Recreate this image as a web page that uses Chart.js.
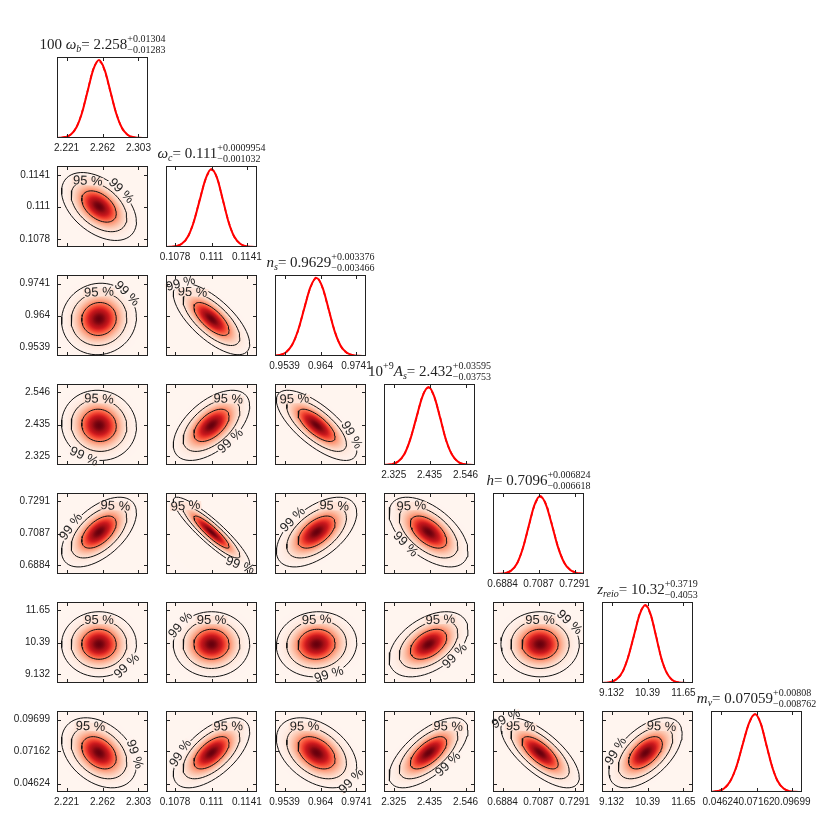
<!DOCTYPE html>
<html>
<head>
<meta charset="utf-8">
<script src="https://cdn.jsdelivr.net/npm/chart.js@4.4.1/dist/chart.umd.min.js"></script>
<style>
html, body { margin: 0; padding: 0; background: #fff; overflow: hidden; }
#fig { position: relative; width: 817px; height: 817px; }
#fig canvas { position: absolute; }
</style>
</head>
<body>
<div id="fig"></div>
<script>
// ---- data ----
const paramTicks = [
  [2.221, 2.262, 2.303],
  [0.1078, 0.111, 0.1141],
  [0.9539, 0.964, 0.9741],
  [2.325, 2.435, 2.546],
  [0.6884, 0.7087, 0.7291],
  [9.132, 10.39, 11.65],
  [0.04624, 0.07162, 0.09699]
];
const bestFit = [2.258, 0.111, 0.9629, 2.432, 0.7096, 10.32, 0.07059];
const errUp = [0.01304, 0.0009954, 0.003376, 0.03595, 0.006824, 0.3719, 0.00808];
const errDown = [0.01283, 0.001032, 0.003466, 0.03753, 0.006618, 0.4053, 0.008762];

// symbol of each parameter, as [text, style] pieces
const titleSymbols = [
  [['100 ', 'rm'], ['ω', 'it'], ['b', 'sub']],
  [['ω', 'it'], ['c', 'sub']],
  [['n', 'it'], ['s', 'sub']],
  [['10', 'rm'], ['+9', 'sup'], ['A', 'it'], ['s', 'sub']],
  [['h', 'it']],
  [['z', 'it'], ['reio', 'sub']],
  [['m', 'it'], ['ν', 'sub']]
];

// 1D marginals, sampled at these offsets (in units of the quoted errors)
const sigmaSteps = [-4, -3.5, -3, -2.5, -2, -1.5, -1, -0.5, 0, 0.5, 1, 1.5, 2, 2.5, 3, 3.5, 4];
const post_omega_b = [0.000, 0.003, 0.012, 0.045, 0.138, 0.328, 0.608, 0.880, 1.000, 0.872, 0.598, 0.318, 0.132, 0.043, 0.011, 0.003, 0.000];
const like_omega_b = [0.000, 0.002, 0.010, 0.048, 0.142, 0.336, 0.615, 0.890, 0.985, 0.862, 0.590, 0.325, 0.128, 0.040, 0.013, 0.002, 0.000];
const post_omega_c = [0.000, 0.002, 0.011, 0.044, 0.135, 0.325, 0.602, 0.876, 1.000, 0.880, 0.606, 0.322, 0.134, 0.044, 0.012, 0.002, 0.000];
const like_omega_c = [0.000, 0.003, 0.012, 0.041, 0.131, 0.330, 0.610, 0.868, 0.990, 0.886, 0.600, 0.328, 0.130, 0.046, 0.010, 0.003, 0.000];
const post_n_s = [0.000, 0.003, 0.012, 0.046, 0.137, 0.330, 0.610, 0.884, 1.000, 0.878, 0.603, 0.320, 0.133, 0.044, 0.011, 0.002, 0.000];
const like_n_s = [0.000, 0.002, 0.014, 0.044, 0.140, 0.322, 0.618, 0.875, 1.010, 0.870, 0.598, 0.326, 0.128, 0.041, 0.013, 0.002, 0.000];
const post_A_s = [0.000, 0.002, 0.011, 0.043, 0.134, 0.326, 0.605, 0.879, 1.000, 0.876, 0.602, 0.321, 0.134, 0.045, 0.012, 0.003, 0.000];
const like_A_s = [0.000, 0.003, 0.013, 0.047, 0.130, 0.333, 0.598, 0.886, 0.992, 0.868, 0.611, 0.316, 0.139, 0.042, 0.010, 0.002, 0.000];
const post_h = [0.000, 0.002, 0.010, 0.040, 0.128, 0.318, 0.600, 0.878, 1.000, 0.885, 0.620, 0.338, 0.145, 0.050, 0.014, 0.004, 0.000];
const like_h = [0.000, 0.003, 0.009, 0.043, 0.124, 0.322, 0.592, 0.870, 0.988, 0.896, 0.628, 0.346, 0.150, 0.055, 0.017, 0.005, 0.000];
const post_z_reio = [0.000, 0.003, 0.013, 0.047, 0.140, 0.331, 0.610, 0.881, 1.000, 0.874, 0.596, 0.315, 0.130, 0.042, 0.010, 0.002, 0.000];
const like_z_reio = [0.000, 0.002, 0.011, 0.050, 0.136, 0.338, 0.602, 0.892, 0.994, 0.866, 0.606, 0.309, 0.135, 0.039, 0.012, 0.002, 0.000];
const post_m_nu = [0.000, 0.003, 0.012, 0.045, 0.137, 0.327, 0.606, 0.879, 1.000, 0.877, 0.601, 0.321, 0.134, 0.044, 0.011, 0.002, 0.000];
const like_m_nu = [0.000, 0.002, 0.014, 0.042, 0.141, 0.320, 0.612, 0.872, 0.996, 0.884, 0.595, 0.328, 0.129, 0.047, 0.010, 0.003, 0.000];
const posteriors = [post_omega_b, post_omega_c, post_n_s, post_A_s, post_h, post_z_reio, post_m_nu];
const likelihoods = [like_omega_b, like_omega_c, like_n_s, like_A_s, like_h, like_z_reio, like_m_nu];

// correlation coefficients of each pair (row param on y, column param on x)
const corr_omega_c = [-0.45];
const corr_n_s = [0.05, -0.70];
const corr_A_s = [-0.05, 0.55, -0.72];
const corr_h = [0.55, -0.90, 0.55, -0.55];
const corr_z_reio = [0.00, 0.00, 0.05, 0.45, 0.00];
const corr_m_nu = [-0.35, 0.60, -0.40, 0.65, -0.70, 0.55];
const corrRows = [[], corr_omega_c, corr_n_s, corr_A_s, corr_h, corr_z_reio, corr_m_nu];

// confidence levels and their radius (in sigma) of the 2D contours
const contourLevels = [68, 95, 99];
const contourRadius = [1.52, 2.45, 3.3];

// ---- layout ----
const NP = 7, W = 91, H = 81, STEP = 109, X0 = 57, Y0 = 57;
const LEFT = 55, RIGHT = 50, BOTTOM = 30;
const label99Dir = {
  '1,0': 'ne', '2,0': 'ne', '2,1': 'w', '3,0': 's', '3,1': 'se', '3,2': 'se',
  '4,0': 'w', '4,1': 's', '4,2': 'nw', '4,3': 'sw', '5,0': 'se', '5,1': 'w',
  '5,2': 's', '5,3': 'se', '5,4': 'ne', '6,0': 'e', '6,1': 'w', '6,2': 'se',
  '6,3': 'se', '6,4': 'n', '6,5': 'w'
};
const dirVec = { n: [0, -1], ne: [0.7, -0.7], e: [1, 0], se: [0.7, 0.7], s: [0, 1], sw: [-0.7, 0.7], w: [-1, 0], nw: [-0.7, -0.7] };

Chart.defaults.animation = false;
Chart.defaults.font.family = '"Liberation Sans", Arial, sans-serif';

// matplotlib "Reds"
const redsHex = ['#fff5f0', '#fee0d2', '#fcbba1', '#fc9272', '#fb6a4a', '#ef3b2c', '#cb181d', '#a50f15', '#67000d'];
const redsRgb = redsHex.map(h => [1, 3, 5].map(k => parseInt(h.substr(k, 2), 16)));
function redsAt(v) {
  v = Math.max(0, Math.min(1, v));
  const f = v * 8, k = Math.min(7, Math.floor(f)), t = f - k;
  const a = redsRgb[k], b = redsRgb[k + 1];
  return 'rgb(' + a.map((c, n) => Math.round(c + (b[n] - c) * t)).join(',') + ')';
}
const shade = r => redsAt(Math.pow(Math.exp(-r * r / 2), 0.75));

function axisRange(p) {
  const t = paramTicks[p];
  const half = (t[2] - t[0]) / 2 / 0.79;
  return [t[1] - half, t[1] + half];
}

function makeScale(axis, p, showLabels) {
  const t = paramTicks[p];
  const r = axisRange(p);
  return {
    type: 'linear',
    position: axis === 'x' ? 'bottom' : 'left',
    min: r[0], max: r[1],
    grid: { display: false, drawTicks: false, tickLength: 0 },
    border: { display: false },
    ticks: {
      display: showLabels, autoSkip: false, maxRotation: 0, minRotation: 0,
      padding: axis === 'x' ? 4 : 7,
      color: '#222', font: { size: 10 },
      callback: (v, i) => String(t[i])
    },
    afterBuildTicks: s => { s.ticks = t.map(v => ({ value: v })); },
    afterFit: s => {
      if (axis === 'x') { s.height = BOTTOM; s.paddingLeft = 0; s.paddingRight = 0; }
      else { s.width = LEFT; s.paddingTop = 0; s.paddingBottom = 0; }
    }
  };
}

// red density image under the contours
const densityPlugin = {
  id: 'density',
  beforeDatasetsDraw(chart, args, o) {
    const ctx = chart.ctx, a = chart.chartArea;
    const xs = chart.scales.x, ys = chart.scales.y;
    const cx = xs.getPixelForValue(o.mx), cy = ys.getPixelForValue(o.my);
    const sx = xs.getPixelForValue(o.mx + o.sx) - cx;
    const sy = ys.getPixelForValue(o.my + o.sy) - cy;
    ctx.save();
    ctx.beginPath();
    ctx.rect(a.left, a.top, a.right - a.left, a.bottom - a.top);
    ctx.clip();
    ctx.fillStyle = redsHex[0];
    ctx.fillRect(a.left, a.top, a.right - a.left, a.bottom - a.top);
    ctx.transform(sx, sy * o.rho, 0, sy * Math.sqrt(1 - o.rho * o.rho), cx, cy);
    const R = 4, g = ctx.createRadialGradient(0, 0, 0, 0, 0, R);
    for (let k = 0; k <= 40; k++) g.addColorStop(k / 40, shade(R * k / 40));
    ctx.fillStyle = g;
    ctx.fillRect(-12, -12, 24, 24);
    ctx.restore();
  }
};

// inline "95 %" / "99 %" labels on the contours
const contourLabelPlugin = {
  id: 'clabels',
  afterDatasetsDraw(chart, args, o) {
    const ctx = chart.ctx, a = chart.chartArea;
    o.items.forEach(it => {
      const pts = chart.getDatasetMeta(it.ds).data;
      const cx = (a.left + a.right) / 2, cy = (a.top + a.bottom) / 2;
      let best = -1, bestScore = -1e9;
      for (let k = 0; k < pts.length - 1; k++) {
        const p = pts[k];
        if (p.x < a.left + 13 || p.x > a.right - 13 || p.y < a.top + 8 || p.y > a.bottom - 8) continue;
        const sc = (p.x - cx) * it.dir[0] + (p.y - cy) * it.dir[1];
        if (sc > bestScore) { bestScore = sc; best = k; }
      }
      if (best < 0) return;
      const n = pts.length - 1;
      const p0 = pts[(best - 1 + n) % n], p1 = pts[(best + 1) % n];
      let ang = Math.atan2(p1.y - p0.y, p1.x - p0.x);
      if (ang > Math.PI / 2) ang -= Math.PI;
      if (ang < -Math.PI / 2) ang += Math.PI;
      ctx.save();
      ctx.translate(pts[best].x, pts[best].y);
      ctx.rotate(ang);
      ctx.font = '13px "Liberation Sans", Arial, sans-serif';
      const w = ctx.measureText(it.text).width;
      ctx.fillStyle = it.bg;
      ctx.fillRect(-w / 2 - 1, -4, w + 2, 8);
      ctx.fillStyle = '#222';
      ctx.textAlign = 'center';
      ctx.textBaseline = 'middle';
      ctx.fillText(it.text, 0, 0);
      ctx.restore();
    });
  }
};

// box and inward tick marks
const framePlugin = {
  id: 'frame',
  afterDraw(chart, args, o) {
    const ctx = chart.ctx, a = chart.chartArea;
    ctx.save();
    ctx.strokeStyle = '#222';
    ctx.lineWidth = 1;
    ctx.strokeRect(a.left + 0.5, a.top + 0.5, a.right - a.left - 1, a.bottom - a.top - 1);
    ctx.beginPath();
    chart.scales.x.ticks.forEach(t => {
      const x = Math.round(chart.scales.x.getPixelForValue(t.value)) + 0.5;
      ctx.moveTo(x, a.bottom); ctx.lineTo(x, a.bottom - 4);
      ctx.moveTo(x, a.top); ctx.lineTo(x, a.top + 4);
    });
    if (o.yTicks) {
      chart.scales.y.ticks.forEach(t => {
        const y = Math.round(chart.scales.y.getPixelForValue(t.value)) + 0.5;
        ctx.moveTo(a.left, y); ctx.lineTo(a.left + 4, y);
        ctx.moveTo(a.right, y); ctx.lineTo(a.right - 4, y);
      });
    }
    ctx.stroke();
    ctx.restore();
  }
};

// title over each 1D panel: symbol = value with stacked errors
const titlePlugin = {
  id: 'ptitle',
  afterDraw(chart, args, o) {
    const ctx = chart.ctx, a = chart.chartArea;
    const p = o.p;
    const fonts = {
      rm: '15px "Liberation Serif", serif',
      it: 'italic 15px "Liberation Serif", serif',
      sub: 'italic 10px "Liberation Serif", serif',
      sup: '10px "Liberation Serif", serif'
    };
    const shift = { rm: 0, it: 0, sub: 3, sup: -7 };
    const parts = titleSymbols[p].concat([['= ' + String(bestFit[p]), 'rm']]);
    const up = '+' + String(errUp[p]), dn = '\u2212' + String(errDown[p]);
    let total = 0;
    const widths = parts.map(s => { ctx.font = fonts[s[1]]; const w = ctx.measureText(s[0]).width; total += w; return w; });
    ctx.font = fonts.sup;
    const ew = Math.max(ctx.measureText(up).width, ctx.measureText(dn).width);
    total += ew;
    let x = (a.left + a.right) / 2 - total / 2;
    const base = a.top - 8;
    ctx.save();
    ctx.fillStyle = '#222';
    ctx.textBaseline = 'alphabetic';
    ctx.textAlign = 'left';
    parts.forEach((s, k) => {
      ctx.font = fonts[s[1]];
      ctx.fillText(s[0], x, base + shift[s[1]]);
      x += widths[k];
    });
    ctx.font = fonts.sup;
    ctx.fillText(up, x, base - 7);
    ctx.fillText(dn, x, base + 4);
    ctx.restore();
  }
};

const fig = document.getElementById('fig');

function addCanvas(i, j, topPad) {
  const c = document.createElement('canvas');
  c.width = LEFT + W + RIGHT;
  c.height = topPad + H + BOTTOM;
  c.style.left = (X0 + STEP * j - LEFT) + 'px';
  c.style.top = (Y0 + STEP * i - topPad) + 'px';
  fig.appendChild(c);
  return c.getContext('2d');
}

function sigmaOf(p) { return (errUp[p] + errDown[p]) / 2; }

function ring(px, py, rho, r) {
  const mx = bestFit[px], my = bestFit[py], sx = sigmaOf(px), sy = sigmaOf(py);
  const pts = [];
  for (let k = 0; k <= 60; k++) {
    const t = 2 * Math.PI * k / 60;
    const u = r * Math.cos(t), v = r * Math.sin(t);
    pts.push({ x: mx + sx * u, y: my + sy * (rho * u + Math.sqrt(1 - rho * rho) * v) });
  }
  return pts;
}

for (let i = 0; i < NP; i++) {
  for (let j = 0; j <= i; j++) {
    if (i === j) {
      // 1D marginal
      const p = i;
      const xsAt = sigmaSteps.map(s => bestFit[p] + s * (s < 0 ? errDown[p] : errUp[p]));
      const ctx = addCanvas(i, j, 32);
      const yScale = makeScale('y', p, false);
      yScale.min = 0; yScale.max = 1.04;
      delete yScale.afterBuildTicks;
      new Chart(ctx, {
        type: 'line',
        data: {
          datasets: [
            {
              data: xsAt.map((x, k) => ({ x: x, y: likelihoods[p][k] })),
              borderColor: '#ff0000', borderWidth: 1.6, borderDash: [4, 3],
              pointRadius: 0, cubicInterpolationMode: 'monotone', fill: false
            },
            {
              data: xsAt.map((x, k) => ({ x: x, y: posteriors[p][k] })),
              borderColor: '#ff0000', borderWidth: 2,
              pointRadius: 0, cubicInterpolationMode: 'monotone', fill: false
            }
          ]
        },
        options: {
          responsive: false,
          layout: { padding: { top: 32, right: RIGHT, left: 0, bottom: 0 } },
          plugins: { legend: { display: false }, tooltip: { enabled: false }, frame: { yTicks: false }, ptitle: { p: p } },
          scales: { x: makeScale('x', p, true), y: yScale }
        },
        plugins: [framePlugin, titlePlugin]
      });
    } else {
      // 2D contours
      const px = j, py = i, rho = corrRows[i][j];
      const ctx = addCanvas(i, j, 4);
      const datasets = contourLevels.map((lv, k) => ({
        data: ring(px, py, rho, contourRadius[k]),
        borderColor: '#111', borderWidth: 1, pointRadius: 0, tension: 0, fill: false
      }));
      new Chart(ctx, {
        type: 'line',
        data: { datasets: datasets },
        options: {
          responsive: false,
          layout: { padding: { top: 4, right: RIGHT, left: 0, bottom: 0 } },
          plugins: {
            legend: { display: false }, tooltip: { enabled: false },
            frame: { yTicks: true },
            density: { mx: bestFit[px], my: bestFit[py], sx: sigmaOf(px), sy: sigmaOf(py), rho: rho },
            clabels: {
              items: [
                { ds: 1, text: contourLevels[1] + ' %', dir: dirVec.n, bg: shade(contourRadius[1]) },
                { ds: 2, text: contourLevels[2] + ' %', dir: dirVec[label99Dir[i + ',' + j]], bg: shade(contourRadius[2]) }
              ]
            }
          },
          scales: { x: makeScale('x', px, i === NP - 1), y: makeScale('y', py, j === 0) }
        },
        plugins: [densityPlugin, contourLabelPlugin, framePlugin]
      });
    }
  }
}
</script>
</body>
</html>
